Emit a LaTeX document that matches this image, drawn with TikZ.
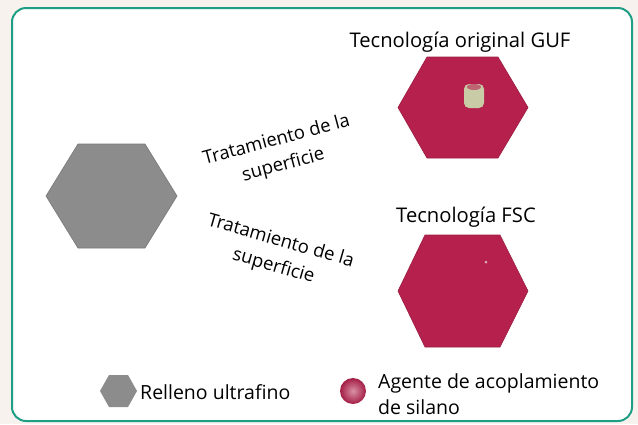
\documentclass[tikz,border=0pt]{standalone}
\usepackage{fontspec}
\setmainfont{Open Sans}
\definecolor{frameg}{HTML}{1E9E84}
\definecolor{hexgray}{HTML}{8C8C8C}
\definecolor{hexred}{HTML}{B5214C}
\definecolor{bgout}{HTML}{F8F2EF}
\definecolor{spot}{HTML}{C9CBA6}
\begin{document}
\begin{tikzpicture}[x=1pt,y=-1pt,
  lbl/.style={font=\fontsize{19.5}{26}\selectfont, text=black, inner sep=0pt},
  title/.style={lbl, font=\fontsize{20.2}{26}\selectfont},
  rot/.style={lbl, align=center, font=\fontsize{18.5}{26}\selectfont},
  graphex/.style={fill=hexgray, draw=hexgray!85!black, line width=0.6pt},
  redhex/.style={fill=hexred, draw=hexred!85!black, line width=0.6pt}]
\useasboundingbox (0,0) rectangle (638,424);
\fill[bgout] (0,0) rectangle (638,424);
\draw[frameg, line width=2pt, fill=white, rounded corners=14pt] (12,8) rectangle (632,421);
% hexagons
\path[graphex] (46,196) -- (78,144) -- (145,144) -- (177,196) -- (145,248) -- (78,248) -- cycle;
\path[redhex] (398,107.5) -- (427,57) -- (498,57) -- (528,107.5) -- (498,158) -- (427,158) -- cycle;
\path[redhex] (398,291) -- (425,235) -- (500,235) -- (528,291) -- (500,347) -- (425,347) -- cycle;
% spots
\fill[spot, rounded corners=5pt] (464,84) rectangle (484,108);
\fill[hexred!60!spot] (474,87) ellipse [x radius=7, y radius=3];
\fill[hexred!40!white] (486,262) circle (1.5);
% labels
\node[title] (guf) at (460,42) {Tecnología original GUF};
\node[title] (fsc) at (466,217) {Tecnología FSC};
\node[rot, rotate=15] (t1) at (280,153) {Tratamiento de la\\superficie};
\node[rot, rotate=-16] (t2) at (277,254) {Tratamiento de la\\superficie};
% legend
\path[fill=hexgray] (100,391) -- (109,375) -- (128,375) -- (137,391) -- (128,407) -- (109,407) -- cycle;
\node[lbl, anchor=west] (l1) at (140,392) {Relleno ultrafino};
\shade[inner color=hexred!50!white, outer color=hexred!90!black] (353,391) circle (13);
\node[lbl, anchor=north west, align=left] (l2) at (378,373) {Agente de acoplamiento\\de silano};
\end{tikzpicture}
\end{document}
